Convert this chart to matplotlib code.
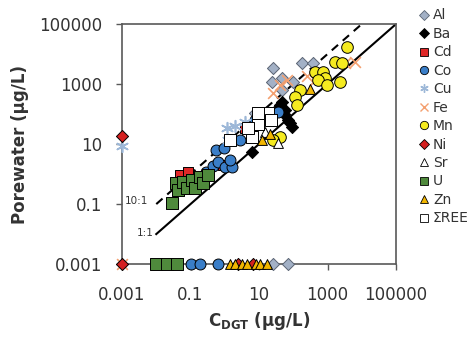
import matplotlib.pyplot as plt
from matplotlib.lines import Line2D

plt.rcParams['font.family'] = 'DejaVu Sans'
plt.rcParams['mathtext.default'] = 'bf'

ticks = [0.001, 0.1, 10, 1000, 100000]
tick_labels = ['0.001', '0.1', '10', '1000', '100000']

# ratio lines
one_x = [0.01, 100000]
one_y = [0.01, 100000]
ten_x = [0.01, 10000]
ten_y = [0.1, 100000]

# data per element (C_DGT, porewater), 0.001 = below detection
al_x = [25.6, 24, 47, 47, 98, 180, 380, 7.6, 25, 70]
al_y = [3400, 1170, 1580, 630, 1170, 5000, 5000, 108, 0.001, 0.001]
ba_x = [47, 58, 71, 92, 35, 6.3, 40, 80, 55]
ba_y = [250, 135, 63, 37, 158, 5.4, 200, 50, 100]
cd_x = [0.049, 0.085, 0.89, 3.9]
cd_y = [0.93, 1.17, 2.0, 34]
co_x = [0.28, 0.45, 0.64, 1.0, 1.6, 1.4, 0.56, 0.95, 2.8, 7.6, 35, 0.1, 0.19, 0.63]
co_y = [1.17, 1.85, 2.5, 1.7, 1.7, 2.9, 6.3, 7.4, 13.5, 63, 117, 0.001, 0.001, 0.001]
cu_x = [0.001, 1.16, 2.0, 1.24, 3.9]
cu_y = [8.6, 34, 40, 13.5, 54]
fe_x = [0.001, 26, 40, 66, 250, 430, 3200, 6300]
fe_y = [0.001, 500, 930, 1350, 1850, 1350, 5000, 5400]
mn_x = [3700, 1660, 2650, 430, 750, 850, 520, 980, 2300, 160, 113, 128, 40, 26]
mn_y = [17000, 5400, 5000, 2500, 2500, 1580, 1350, 930, 1170, 630, 370, 200, 17, 13.5]
ni_x = [0.001, 0.001, 2.4, 6.6]
ni_y = [18.6, 0.001, 0.001, 0.001]
sr_x = [35, 15]
sr_y = [10.7, 25]
u_x = [0.029, 0.038, 0.043, 0.06, 0.079, 0.11, 0.135, 0.19, 0.23, 0.32, 0.01, 0.021, 0.041]
u_y = [0.107, 0.5, 0.29, 0.54, 0.34, 0.63, 0.34, 0.79, 0.5, 0.93, 0.001, 0.001, 0.001]
zn_x = [310, 12.3, 21, 1.4, 2.0, 3.2, 4.5, 8, 11, 17]
zn_y = [680, 13.5, 21, 0.001, 0.001, 0.001, 0.001, 0.001, 0.001, 0.001]
ree_x = [1.42, 6.3, 9.3, 18, 22, 9.3, 4.8]
ree_y = [13.5, 17, 47, 108, 63, 108, 34]

# label, x, y, marker, face, edge, size
series = [
    ('Al', al_x, al_y, 'D', '#a3b1c6', '#5a6473', 38),
    ('Ba', ba_x, ba_y, 'D', 'black', 'black', 38),
    ('Cd', cd_x, cd_y, 's', '#e02828', 'black', 60),
    ('Co', co_x, co_y, 'o', '#3a7ec8', 'black', 62),
    ('Cu', cu_x, cu_y, (6, 2, 0), '#9db8d8', '#9db8d8', 70),
    ('Fe', fe_x, fe_y, 'x', '#f4a070', '#f4a070', 60),
    ('Mn', mn_x, mn_y, 'o', '#f5eb20', 'black', 70),
    ('Ni', ni_x, ni_y, 'D', '#d42020', 'black', 38),
    ('Sr', sr_x, sr_y, '^', 'white', 'black', 50),
    ('U', u_x, u_y, 's', '#4f8a3c', 'black', 70),
    ('Zn', zn_x, zn_y, '^', '#f2b600', 'black', 50),
    ('ΣREE', ree_x, ree_y, 's', 'white', 'black', 70),
]

fig = plt.figure(figsize=(4.72, 3.39), dpi=100)
ax = fig.add_axes([0.2585, 0.221, 0.5805, 0.708])

ax.plot(one_x, one_y, color='black', lw=1.5, zorder=2)
ax.plot(ten_x, ten_y, color='black', lw=1.5, ls=(0, (4, 3)), zorder=2)

handles = []
for i, (lab, x, y, m, fc, ec, s) in enumerate(series):
    lined = m in ('x',) or isinstance(m, tuple)
    if lined:
        ax.scatter(x, y, marker=m, c=fc, s=s, linewidths=1.2, zorder=3 + i, clip_on=False)
        h = Line2D([], [], ls='', marker=m, color=fc, markersize=6, markeredgewidth=1.0)
    else:
        ax.scatter(x, y, marker=m, c=fc, edgecolors=ec, s=s, linewidths=0.7,
                   zorder=3 + i, clip_on=False)
        h = Line2D([], [], ls='', marker=m, markerfacecolor=fc, markeredgecolor=ec,
                   markersize=6 if m != 'D' else 5, markeredgewidth=0.6)
    handles.append((h, lab))

ax.text(0.0057, 0.13, '10:1', fontsize=7.5, ha='right', va='center', color='#333333')
ax.text(0.0086, 0.011, '1:1', fontsize=7.5, ha='right', va='center', color='#333333')

ax.set_xscale('log')
ax.set_yscale('log')
ax.set_xlim(0.001, 100000)
ax.set_ylim(0.001, 100000)
ax.set_xticks(ticks)
ax.set_xticklabels(tick_labels)
ax.set_yticks(ticks)
ax.set_yticklabels(tick_labels)
ax.minorticks_off()
ax.tick_params(axis='both', labelsize=12, length=4.5, width=1, color='#595959',
               labelcolor='#333333')
ax.tick_params(axis='x', pad=11)
ax.tick_params(axis='y', pad=10)
for sp in ax.spines.values():
    sp.set_color('#595959')
    sp.set_linewidth(1.2)

ax.set_xlabel('C$_{DGT}$ (µg/L)', fontsize=12, fontweight='bold', color='#333333')
ax.set_ylabel('Porewater (µg/L)', fontsize=12, fontweight='bold', color='#333333')
ax.xaxis.set_label_coords(0.5, -0.19)
ax.yaxis.set_label_coords(-0.34, 0.5)

fig.legend([h for h, _ in handles], [l for _, l in handles], loc='upper left',
           bbox_to_anchor=(0.888, 0.975), frameon=False, fontsize=10,
           handlelength=0.7, handletextpad=0.3, labelspacing=0.32, borderaxespad=0,
           borderpad=0, labelcolor='#333333')

fig.savefig('out.png', dpi=100)
